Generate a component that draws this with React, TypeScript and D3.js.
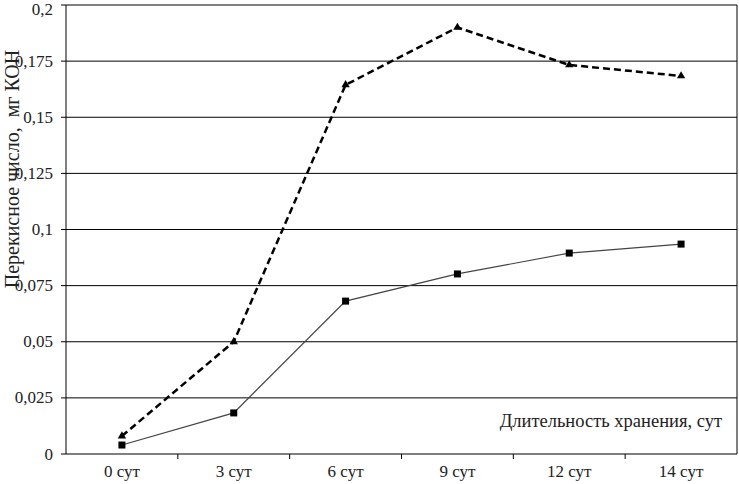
import React from "react";
import * as d3 from "d3";

const categories = ["0 сут", "3 сут", "6 сут", "9 сут", "12 сут", "14 сут"];
const dashedValues = [0.008, 0.05, 0.1644, 0.19, 0.1733, 0.1684];
const solidValues = [0.004, 0.0183, 0.0681, 0.0802, 0.0895, 0.0935];
const yTicks = [0, 0.025, 0.05, 0.075, 0.1, 0.125, 0.15, 0.175, 0.2];

const W = 739;
const H = 484;
const m = { left: 66, right: 2, top: 5, bottom: 30 };
const font = "'Liberation Serif', 'Times New Roman', serif";

export default function App() {
  const x = d3.scaleBand().domain(categories).range([m.left, W - m.right]);
  const y = d3.scaleLinear().domain([0, 0.2]).range([H - m.bottom, m.top]);
  const cx = (i: number) => x(categories[i])! + x.bandwidth() / 2;

  const line = d3
    .line<number>()
    .x((_, i) => cx(i))
    .y((d) => y(d));

  const fmt = (v: number) => (v === 0 ? "0" : String(v).replace(".", ","));
  const tri = d3.symbol(d3.symbolTriangle, 30)();
  const ts = { fontFamily: font };

  return (
    <svg
      width={W}
      height={H}
      style={{ position: "absolute", left: 0, top: 0, background: "#fff" }}
    >
      {yTicks.map((t) => (
        <g key={t}>
          <line x1={m.left - 5} x2={W - m.right} y1={y(t)} y2={y(t)} stroke="#000" strokeWidth={1} />
          <text x={m.left - 13} y={Math.max(y(t), 9)} dy="0.33em" textAnchor="end" fontSize={17} fill="#222" style={ts}>
            {fmt(t)}
          </text>
        </g>
      ))}
      <line x1={m.left} x2={m.left} y1={m.top} y2={H - m.bottom} stroke="#000" />
      <line x1={W - m.right} x2={W - m.right} y1={m.top} y2={H - m.bottom} stroke="#000" />
      {categories.slice(1).map((c) => (
        <line key={c} x1={x(c)!} x2={x(c)!} y1={H - m.bottom} y2={H - m.bottom + 5} stroke="#000" />
      ))}
      {categories.map((c, i) => (
        <text key={c} x={cx(i)} y={H - m.bottom + 23} textAnchor="middle" fontSize={17} fill="#222" style={ts}>
          {c}
        </text>
      ))}

      <path d={line(solidValues)!} fill="none" stroke="#444" strokeWidth={1.2} />
      {solidValues.map((v, i) => (
        <rect key={i} x={cx(i) - 3.5} y={y(v) - 3.5} width={7} height={7} fill="#000" />
      ))}

      <path d={line(dashedValues)!} fill="none" stroke="#000" strokeWidth={2.5} strokeDasharray="7,4" />
      {dashedValues.map((v, i) => (
        <path key={i} d={tri!} transform={`translate(${cx(i)},${y(v)})`} fill="#000" />
      ))}

      <text x={722} y={427} textAnchor="end" fontSize={18.5} fill="#222" style={ts}>
        Длительность хранения, сут
      </text>
      <text
        transform={`translate(19,${169}) rotate(-90)`}
        textAnchor="middle"
        fontSize={20}
        fill="#222"
        style={{ ...ts, whiteSpace: "pre" }}
      >
        {"Перекисное число,  мг КОН"}
      </text>
    </svg>
  );
}
